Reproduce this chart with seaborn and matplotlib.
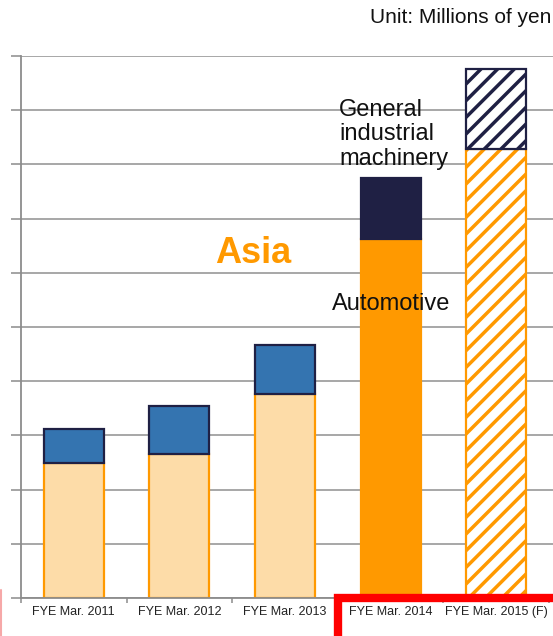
import matplotlib
matplotlib.use("Agg")
import matplotlib.pyplot as plt
import seaborn as sns
import pandas as pd
import numpy as np
from matplotlib.patches import Rectangle
from matplotlib.lines import Line2D

categories = ["FYE Mar. 2011", "FYE Mar. 2012", "FYE Mar. 2013", "FYE Mar. 2014", "FYE Mar. 2015 (F)"]
automotive = [2.49, 2.66, 3.76, 6.62, 8.28]
machinery = [0.63, 0.88, 0.91, 1.13, 1.48]

auto_face = ["#FDDCA8", "#FDDCA8", "#FDDCA8", "#FF9900", "white"]
mach_face = ["#3474B0", "#3474B0", "#3474B0", "#1F2044", "white"]
ORANGE = "#FF9900"
NAVY = "#1F2044"

sns.set_theme(style="white")
plt.rcParams["font.family"] = ["Liberation Sans", "DejaVu Sans"]
plt.rcParams["hatch.linewidth"] = 2.5

W, H = 553, 636
fig = plt.figure(figsize=(W / 100, H / 100), dpi=100)
ax = fig.add_axes([21 / W, 1 - 598 / H, 532 / W, 542 / H])

df = pd.DataFrame({"cat": categories, "auto": automotive, "mach": machinery})

sns.barplot(data=df, x="cat", y="auto", color=ORANGE, width=0.57, saturation=1,
            linewidth=1.6, edgecolor=ORANGE, ax=ax, zorder=2)
sns.barplot(data=df, x="cat", y="mach", color=NAVY, width=0.57, saturation=1,
            bottom=np.array(automotive), linewidth=1.6, edgecolor=NAVY, ax=ax, zorder=3)

auto_bars = ax.containers[0]
mach_bars = ax.containers[1]
for i, p in enumerate(auto_bars):
    p.set_facecolor(auto_face[i])
    p.set_edgecolor(ORANGE)
    if i == 4:
        p.set_hatch("//")
for i, p in enumerate(mach_bars):
    p.set_facecolor(mach_face[i])
    p.set_edgecolor(NAVY)
    if i == 4:
        p.set_hatch("//")

ax.set_xlim(-0.5, 4.5 + 4 / 105.6)
ax.set_ylim(0, 10)
ax.set_xlabel("")
ax.set_ylabel("")
ax.set_yticks(range(0, 11))
ax.set_yticklabels([])
ax.set_xticks(range(5))
ax.set_xticklabels(categories)
ax.set_xticks(np.arange(-0.5, 5.0, 1.0), minor=True)
ax.tick_params(axis="y", left=True, length=7.5, width=1.1, color="#8C8C8C", direction="out")
ax.tick_params(axis="x", which="major", bottom=False, length=0, pad=6, labelsize=9, labelcolor="#222222")
ax.tick_params(axis="x", which="minor", bottom=True, length=3.5, width=1.1, color="#8C8C8C", direction="out")

ax.yaxis.grid(True, color="#A0A0A0", linewidth=1.3)
ax.set_axisbelow(True)
for s in ["top", "right"]:
    ax.spines[s].set_visible(False)
for s in ["left", "bottom"]:
    ax.spines[s].set_color("#8C8C8C")
    ax.spines[s].set_linewidth(1.3)
ax.patch.set_alpha(0)

def fx(x):
    return x / W

def fy(y):
    return 1 - y / H

fig.text(fx(551), fy(23), "Unit: Millions of yen", ha="right", va="baseline", fontsize=15, color="#111111")
fig.text(fx(253), fy(263), "Asia", ha="center", va="baseline", fontsize=26, fontweight="bold", color=ORANGE)
fig.text(fx(332), fy(310), "Automotive", ha="left", va="baseline", fontsize=17, color="#111111")
fig.text(fx(339), fy(165), "General\nindustrial\nmachinery", ha="left", va="baseline", fontsize=17,
         color="#111111", linespacing=1.15)

fig.patches.append(Rectangle((fx(338), -0.2), 1.0, fy(597.5) + 0.2, transform=fig.transFigure,
                             fill=False, edgecolor="#FF0000", linewidth=6))
fig.lines.append(Line2D([fx(0.8), fx(0.8)], [fy(590), 0], transform=fig.transFigure,
                        color="#F6A8A8", linewidth=1.5))

fig.savefig("out.png", dpi=100)
